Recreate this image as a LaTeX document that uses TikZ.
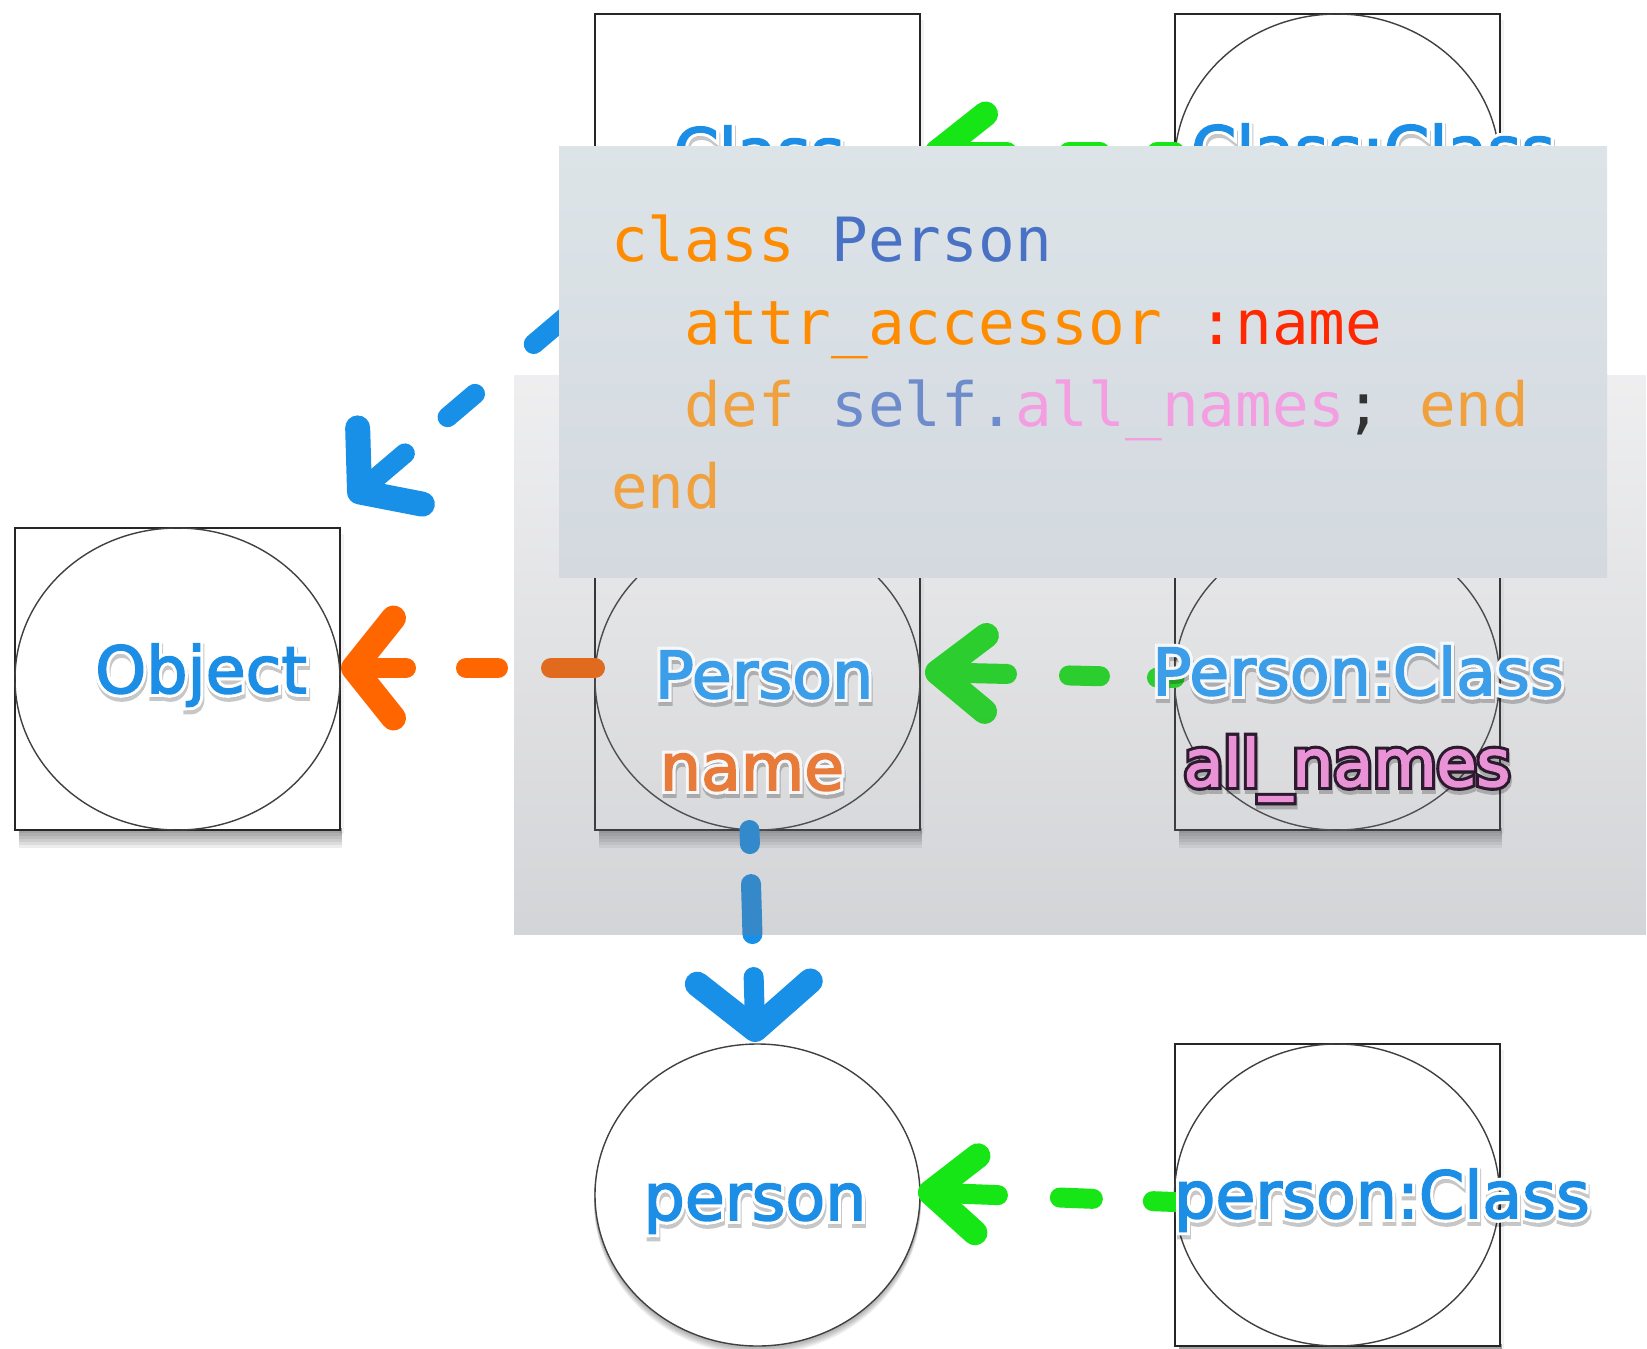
\documentclass[tikz,border=0pt]{standalone}
\usepackage{fontspec}
\usetikzlibrary{shapes.geometric,arrows.meta,calc,fadings}
\newfontfamily\lblfont{DejaVu Sans}[FakeBold=2.5]
\newfontfamily\rimfont{DejaVu Sans}[FakeBold=12]
\newfontfamily\codefont{DejaVu Sans Mono}

\definecolor{lblblue}{RGB}{28,142,230}
\definecolor{lblblueV}{RGB}{60,158,232}
\definecolor{lblorangeV}{RGB}{232,122,58}
\definecolor{lblpinkV}{RGB}{234,146,214}
\definecolor{lbldark}{RGB}{44,26,46}
\definecolor{rimV}{RGB}{246,247,249}
\definecolor{arrorange}{RGB}{255,102,0}
\definecolor{arrgreen}{RGB}{22,230,22}
\definecolor{arrblue}{RGB}{24,144,232}
\definecolor{codekw}{RGB}{255,140,0}
\definecolor{codekwb}{RGB}{240,160,60}
\definecolor{codecls}{RGB}{74,114,196}
\definecolor{codeself}{RGB}{110,140,204}
\definecolor{codesym}{RGB}{255,40,0}
\definecolor{codemeth}{RGB}{242,158,224}
\definecolor{codepunct}{RGB}{50,50,50}
\definecolor{paneltop}{RGB}{221,228,232}
\definecolor{panelbot}{RGB}{211,217,223}
\definecolor{veilc}{RGB}{120,123,132}

\tikzfading[name=veilfade, top color=transparent!88, bottom color=transparent!68]

\tikzset{
  boxnode/.style={draw=black!85, line width=2pt, fill=white,
    minimum width=325pt, minimum height=302pt, inner sep=0pt, outer sep=0pt},
  oval/.style={ellipse, draw=black!75, line width=1.4pt,
    minimum width=325pt, minimum height=302pt, inner sep=0pt, outer sep=0pt},
  lbl/.style={font=\lblfont\fontsize{65}{70}\selectfont, inner sep=0pt, anchor=base},
  lblrim/.style={font=\rimfont\fontsize{65}{70}\selectfont, inner sep=0pt, anchor=base},
  codeline/.style={font=\codefont\fontsize{61}{70}\selectfont, inner sep=0pt, anchor=base west},
  link/.style={line width=20pt, line cap=round, line join=round},
  barb/.style 2 args={arrows={{Straight Barb[length=#1,width=#2,line width=5pt 1,round]}-}},
}

% soft shadow strip under a box
\newcommand\boxshade[1]{%
  \foreach \k in {1,...,6}
    \fill[black, opacity=0.07] ($(#1.south west)+(4,-2)$) rectangle ($(#1.south east)+(2,3*\k)$);
  \fill[black, opacity=0.05] ($(#1.north east)+(0,6)$) rectangle ($(#1.south east)+(4,4)$);
}

% label: soft shadow, rim, then the text itself
\newcommand\glowtext[5]{%
  \node[lblrim, text=black, text opacity=0.22] (#1s) at ($(#2)+(1,4)$) {#5};
  \node[lblrim, text=#4] (#1r) at (#2) {#5};
  \node[lbl, text=#3] (#1) at (#2) {#5};
}

\begin{document}
\begin{tikzpicture}[x=1pt,y=-1pt]
\useasboundingbox (0,0) rectangle (1647,1349);
\fill[white] (0,0) rectangle (1647,1349);

% ---- objects ----
\coordinate (cObj) at (177.5,679);
\coordinate (cClass) at (757.5,165);
\coordinate (cMeta) at (1337,165);
\coordinate (cPerson) at (757.5,679);
\coordinate (cMetaP) at (1337,679);
\coordinate (cInstMeta) at (1337,1195);

\node[boxnode, draw=none, fill=none] (objBox) at (cObj) {};
\node[boxnode, draw=none, fill=none] (classBox) at (cClass) {};
\node[boxnode, draw=none, fill=none] (metaBox) at (cMeta) {};
\node[boxnode, draw=none, fill=none] (personBox) at (cPerson) {};
\node[boxnode, draw=none, fill=none] (metaPBox) at (cMetaP) {};
\node[boxnode, draw=none, fill=none] (instMetaBox) at (cInstMeta) {};

\boxshade{objBox}
\boxshade{classBox}
\boxshade{metaBox}
\boxshade{personBox}
\boxshade{metaPBox}
\boxshade{instMetaBox}

\node[boxnode] (objFrame) at (cObj) {};
\node[boxnode] (classFrame) at (cClass) {};
\node[boxnode] (metaFrame) at (cMeta) {};
\node[boxnode] (personFrame) at (cPerson) {};
\node[boxnode] (metaPFrame) at (cMetaP) {};
\node[boxnode] (instMetaFrame) at (cInstMeta) {};

\node[oval] (objOval) at (cObj) {};
\node[oval] (metaOval) at (cMeta) {};
\node[oval] (personOval) at (cPerson) {};
\node[oval] (metaPOval) at (cMetaP) {};
\node[oval] (instMetaOval) at (cInstMeta) {};

% the instance: an oval only
\foreach \k in {1,...,6}
  \fill[black, opacity=0.05] (757.5,1195+1.3*\k) ellipse (163.5 and 152);
\node[oval, fill=white] (instOval) at (757.5,1195) {};

% ---- connectors ----
\draw[link, arrorange, barb={40pt}{100pt},
      dash pattern=on 40pt off 60pt on 32pt off 53pt on 80pt off 10pt]
  ($(objBox.east)+(1,-11)$) -- ($(personBox.west)+(0,-11)$);
\draw[link, arrblue, barb={40pt}{100pt},
      dash pattern=on 47pt off 56pt on 36pt off 77pt on 100pt off 20pt]
  ($(objBox.north east)+(10,-28)$) -- ($(classBox.south west)+(0,-24)$);
\draw[link, arrgreen, barb={48pt}{76pt},
      dash pattern=on 57pt off 62pt on 31pt off 57pt on 80pt off 10pt]
  ($(classBox.east)+(5,-13)$) -- ($(metaBox.west)+(0,-13)$);
\draw[link, arrgreen, barb={48pt}{76pt},
      dash pattern=on 57pt off 62pt on 31pt off 57pt on 80pt off 10pt]
  ($(personBox.east)+(5,-7)$) -- ($(metaPBox.west)+(0,-1)$);
\draw[link, arrgreen, barb={46pt}{77pt},
      dash pattern=on 55pt off 62pt on 33pt off 60pt on 80pt off 10pt]
  ($(instOval.east)+(-2,-3)$) -- ($(instMetaBox.west)+(0,7)$);
\draw[link, arrblue, barb={47pt}{113pt},
      dash pattern=on 40pt off 43pt on 50pt off 40pt on 60pt off 10pt]
  ($(instOval.north)+(-2,-2)$) -- ($(personBox.south)+(-8,0)$);

% ---- labels outside the veil ----
\glowtext{objLbl}{201,693}{lblblue}{white}{Object}
\glowtext{classLbl}{759,175}{lblblue}{white}{Class}
\glowtext{metaLbl}{1373,173}{lblblue}{white}{Class:Class}
\glowtext{instLbl}{755,1220}{lblblue}{white}{person}
\glowtext{instMetaLbl}{1382,1218}{lblblue}{white}{person:Class}

% ---- translucent veil over the middle row ----
\fill[veilc, path fading=veilfade] (514,375) rectangle (1647,935);

% ---- labels on the veil ----
\glowtext{personLbl}{764,698}{lblblueV}{rimV}{Person}
\glowtext{nameLbl}{752,790}{lblorangeV}{rimV}{name}
\glowtext{metaPLbl}{1358,695}{lblblueV}{rimV}{Person:Class}
\glowtext{allLbl}{1347,786}{lblpinkV}{lbldark}{all\_names}

% ---- code panel ----
\shade[top color=paneltop, bottom color=panelbot] (559,146) rectangle (1607,577);
\node[codeline] (code1) at (611,261) {\color{codekw}class \color{codecls}Person};
\node[codeline] (code2) at (611,344) {\hphantom{aa}\color{codekw}attr\_accessor \color{codesym}:name};
\node[codeline] (code3) at (611,426) {\hphantom{aa}\color{codekwb}def \color{codeself}self.\color{codemeth}all\_names\color{codepunct};\ \color{codekwb}end};
\node[codeline] (code4) at (611,508) {\color{codekwb}end};
\end{tikzpicture}
\end{document}
